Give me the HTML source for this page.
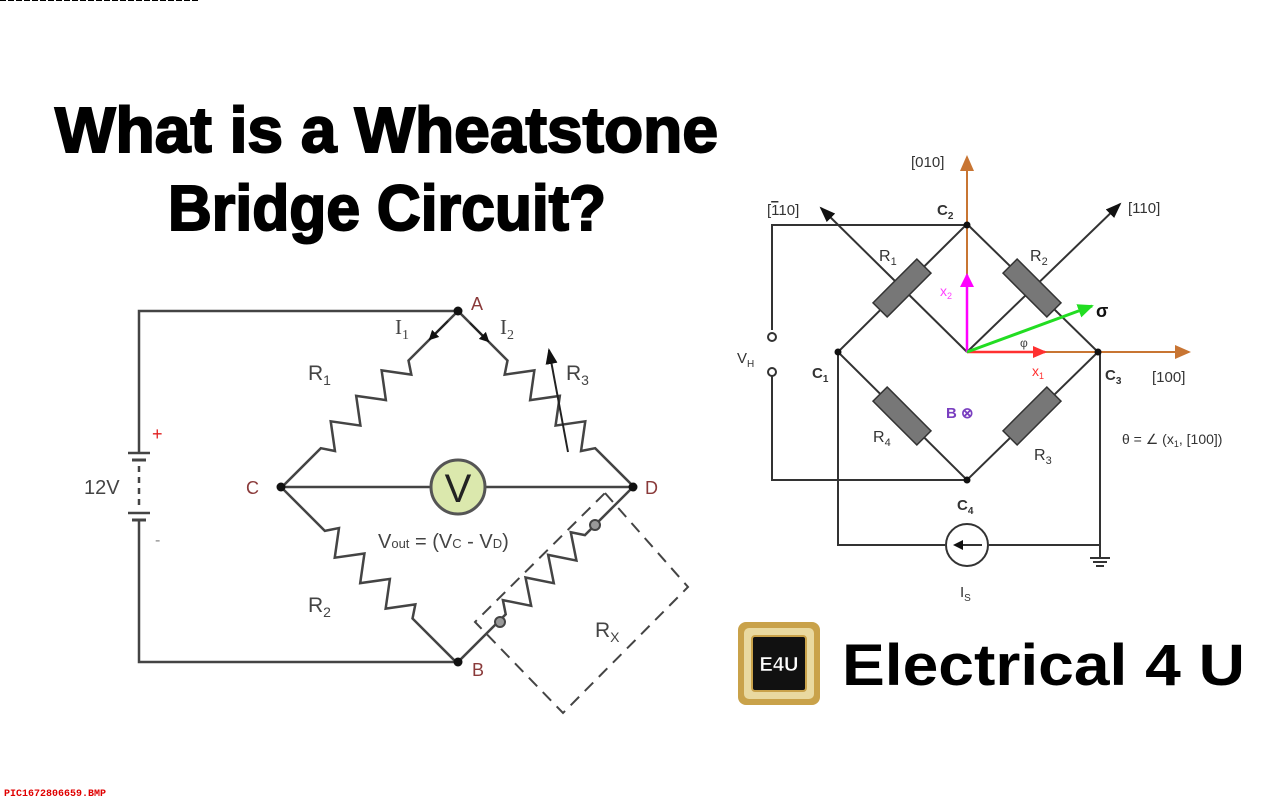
<!DOCTYPE html>
<html><head><meta charset="utf-8"><style>
html,body{margin:0;padding:0;background:#fff;width:1280px;height:800px;overflow:hidden}
svg{display:block}
</style></head><body>
<svg width="1280" height="800" viewBox="0 0 1280 800" xmlns="http://www.w3.org/2000/svg" font-family="Liberation Sans, sans-serif">
<defs>
<marker id="ab" markerWidth="10" markerHeight="10" refX="8" refY="5" orient="auto" markerUnits="userSpaceOnUse"><path d="M0,0 L10,5 L0,10 Z" fill="#111"/></marker>
<marker id="ao" markerWidth="16" markerHeight="14" refX="14" refY="7" orient="auto" markerUnits="userSpaceOnUse"><path d="M0,0 L16,7 L0,14 Z" fill="#c87533"/></marker>
<marker id="am" markerWidth="14" markerHeight="14" refX="12" refY="7" orient="auto" markerUnits="userSpaceOnUse"><path d="M0,0 L14,7 L0,14 Z" fill="#ff00ff"/></marker>
<marker id="ar" markerWidth="14" markerHeight="12" refX="12" refY="6" orient="auto" markerUnits="userSpaceOnUse"><path d="M0,0 L14,6 L0,12 Z" fill="#ff3030"/></marker>
<marker id="ag" markerWidth="16" markerHeight="14" refX="14" refY="7" orient="auto" markerUnits="userSpaceOnUse"><path d="M0,0 L16,7 L0,14 Z" fill="#22dd22"/></marker>
<marker id="ak" markerWidth="16" markerHeight="12" refX="14" refY="6" orient="auto" markerUnits="userSpaceOnUse"><path d="M0,0 L16,6 L0,12 Z" fill="#111"/></marker>
</defs>

<line x1="0" y1="0.5" x2="200" y2="0.5" stroke="#000" stroke-dasharray="6,2"/>

<text x="55" y="152" font-size="64" font-weight="bold" stroke="#000" stroke-width="2" textLength="663" lengthAdjust="spacingAndGlyphs">What is a Wheatstone</text>
<text x="168" y="230" font-size="64" font-weight="bold" stroke="#000" stroke-width="2" textLength="438" lengthAdjust="spacingAndGlyphs">Bridge Circuit?</text>

<g stroke="#444" stroke-width="2.5" fill="none">
<polyline points="458,311 139,311 139,452"/>
<polyline points="139,521 139,662 458,662"/>
<line x1="128" y1="453" x2="150" y2="453"/>
<line x1="132" y1="460" x2="146" y2="460" stroke-width="3"/>
<line x1="139" y1="466" x2="139" y2="507" stroke-dasharray="6,5"/>
<line x1="128" y1="513" x2="150" y2="513"/>
<line x1="132" y1="520" x2="146" y2="520" stroke-width="3"/>
<line x1="281" y1="487" x2="633" y2="487"/>
<polyline transform="translate(458,311) rotate(135)" points="0,0 70,0 78,-12 96,12 114,-12 132,12 150,-12 168,12 186,-12 194,0 249,0"/>
<polyline transform="translate(458,311) rotate(45)" points="0,0 70,0 78,12 96,-12 114,12 132,-12 150,12 168,-12 186,12 194,0 249,0"/>
<polyline transform="translate(281,487) rotate(45)" points="0,0 62,0 70,-12 88,12 106,-12 124,12 142,-12 160,12 178,-12 186,0 249,0"/>
<polyline transform="translate(633,487) rotate(135)" points="0,0 54,0 68,0 76,12 92,-12 108,12 124,-12 140,12 156,-12 172,12 180,0 192,0 249,0"/>
<polygon points="605,493 688,587 563,713 475,622" stroke-dasharray="12,8" stroke-width="2"/>
<line x1="568" y1="452" x2="549" y2="350" stroke="#222" stroke-width="2" marker-end="url(#ak)"/>
</g>
<circle cx="595" cy="525" r="5" fill="#999" stroke="#444" stroke-width="2"/>
<circle cx="500" cy="622" r="5" fill="#999" stroke="#444" stroke-width="2"/>
<line x1="448" y1="321" x2="430" y2="339" stroke="#222" stroke-width="2" marker-end="url(#ab)"/>
<line x1="470" y1="323" x2="488" y2="341" stroke="#222" stroke-width="2" marker-end="url(#ab)"/>
<g fill="#111"><circle cx="458" cy="311" r="4.5"/><circle cx="281" cy="487" r="4.5"/><circle cx="633" cy="487" r="4.5"/><circle cx="458" cy="662" r="4.5"/></g>
<circle cx="458" cy="487" r="27" fill="#dbe8ad" stroke="#555" stroke-width="3"/>
<text x="458" y="502" font-size="40" text-anchor="middle" fill="#222">V</text>
<g font-size="21" fill="#444">
<text x="308" y="380">R<tspan font-size="14" dy="5">1</tspan></text>
<text x="566" y="380">R<tspan font-size="14" dy="5">3</tspan></text>
<text x="308" y="612">R<tspan font-size="14" dy="5">2</tspan></text>
<text x="595" y="637">R<tspan font-size="14" dy="5">X</tspan></text>
<text x="395" y="334" font-family="Liberation Serif, serif">I<tspan font-size="14" dy="5">1</tspan></text>
<text x="500" y="334" font-family="Liberation Serif, serif">I<tspan font-size="14" dy="5">2</tspan></text>
<text x="378" y="548" font-size="20">V<tspan font-size="13">out</tspan> = (V<tspan font-size="13">C</tspan> - V<tspan font-size="13">D</tspan>)</text>
<text x="84" y="494" font-size="20">12V</text>
</g>
<g font-size="18" fill="#8a3a3a">
<text x="471" y="310">A</text><text x="246" y="494">C</text><text x="645" y="494">D</text><text x="472" y="676">B</text>
</g>
<text x="152" y="440" font-size="18" fill="#e02020">+</text>
<text x="155" y="545" font-size="16" fill="#888">-</text>

<g stroke="#333" stroke-width="2" fill="none">
<polyline points="967,225 772,225 772,330"/>
<polyline points="772,375 772,480 967,480"/>
<polygon points="967,224 1098,352 967,480 838,352"/>
<polyline points="838,352 838,545 945,545"/>
<polyline points="989,545 1100,545 1100,352"/>
<line x1="1100" y1="545" x2="1100" y2="558"/>
<line x1="1090" y1="558" x2="1110" y2="558"/>
<line x1="1093" y1="562" x2="1107" y2="562"/>
<line x1="1096" y1="566" x2="1104" y2="566"/>
<line x1="967" y1="352" x2="821" y2="208" marker-end="url(#ak)"/>
<line x1="967" y1="352" x2="1120" y2="204" marker-end="url(#ak)"/>
</g>
<circle cx="772" cy="337" r="4" fill="#fff" stroke="#333" stroke-width="2"/>
<circle cx="772" cy="372" r="4" fill="#fff" stroke="#333" stroke-width="2"/>
<circle cx="967" cy="545" r="21" fill="#fff" stroke="#333" stroke-width="2"/>
<line x1="982" y1="545" x2="955" y2="545" stroke="#333" stroke-width="2" marker-end="url(#ab)"/>
<g fill="#777" stroke="#333" stroke-width="1.5">
<rect x="-31" y="-10" width="62" height="20" transform="translate(902,288) rotate(-45)"/>
<rect x="-31" y="-10" width="62" height="20" transform="translate(1032,288) rotate(45)"/>
<rect x="-31" y="-10" width="62" height="20" transform="translate(902,416) rotate(45)"/>
<rect x="-31" y="-10" width="62" height="20" transform="translate(1032,416) rotate(-45)"/>
</g>
<line x1="967" y1="352" x2="967" y2="157" stroke="#c87533" stroke-width="2" marker-end="url(#ao)"/>
<line x1="967" y1="352" x2="1189" y2="352" stroke="#c87533" stroke-width="2" marker-end="url(#ao)"/>
<line x1="967" y1="352" x2="967" y2="275" stroke="#ff00ff" stroke-width="2.5" marker-end="url(#am)"/>
<line x1="967" y1="352" x2="1045" y2="352" stroke="#ff3030" stroke-width="2.5" marker-end="url(#ar)"/>
<line x1="967" y1="352" x2="1092" y2="306" stroke="#22dd22" stroke-width="3" marker-end="url(#ag)"/>
<g fill="#111"><circle cx="967" cy="225" r="3.5"/><circle cx="838" cy="352" r="3.5"/><circle cx="1098" cy="352" r="3.5"/><circle cx="967" cy="480" r="3.5"/></g>
<g font-size="15" fill="#333">
<text x="911" y="167">[010]</text>
<text x="767" y="215">[<tspan text-decoration="overline">1</tspan>10]</text>
<text x="1128" y="213">[110]</text>
<text x="1152" y="382">[100]</text>
<text x="879" y="261" font-size="16">R<tspan font-size="11" dy="4">1</tspan></text>
<text x="1030" y="261" font-size="16">R<tspan font-size="11" dy="4">2</tspan></text>
<text x="873" y="442" font-size="16">R<tspan font-size="11" dy="4">4</tspan></text>
<text x="1034" y="460" font-size="16">R<tspan font-size="11" dy="4">3</tspan></text>
<text x="937" y="215" font-weight="bold">C<tspan font-size="10" dy="4">2</tspan></text>
<text x="812" y="378" font-weight="bold">C<tspan font-size="10" dy="4">1</tspan></text>
<text x="1105" y="380" font-weight="bold">C<tspan font-size="10" dy="4">3</tspan></text>
<text x="957" y="510" font-weight="bold">C<tspan font-size="10" dy="4">4</tspan></text>
<text x="737" y="363">V<tspan font-size="10" dy="4">H</tspan></text>
<text x="960" y="597">I<tspan font-size="10" dy="4">S</tspan></text>
<text x="1122" y="444" font-size="14">θ = ∠ (x<tspan font-size="9" dy="3">1</tspan><tspan dy="-3">, [100])</tspan></text>
</g>
<text x="1096" y="317" font-size="18" font-weight="bold" fill="#111">σ</text>
<text x="1020" y="347" font-size="12" fill="#444">φ</text>
<text x="940" y="296" font-size="14" fill="#ff40ff">x<tspan font-size="9" dy="3">2</tspan></text>
<text x="1032" y="376" font-size="14" fill="#ff3030">x<tspan font-size="9" dy="3">1</tspan></text>
<text x="946" y="418" font-size="15" font-weight="bold" fill="#7a3fc0">B ⊗</text>

<rect x="738" y="622" width="82" height="83" rx="8" fill="#c9a24a"/>
<rect x="744" y="628" width="70" height="71" rx="5" fill="#e9d9a0"/>
<rect x="752" y="636" width="54" height="55" rx="3" fill="#111" stroke="#c9a24a" stroke-width="2"/>
<text x="779" y="671" font-size="20" font-weight="bold" fill="#fff" stroke="#111" stroke-width="0.5" text-anchor="middle">E4U</text>
<text x="842" y="685" font-size="58" font-weight="bold" fill="#000" textLength="403" lengthAdjust="spacingAndGlyphs">Electrical 4 U</text>

<text x="4" y="796" font-size="10" font-weight="bold" fill="#e00000" font-family="Liberation Mono, monospace">PIC1672806659.BMP</text>
</svg>
</body></html>
